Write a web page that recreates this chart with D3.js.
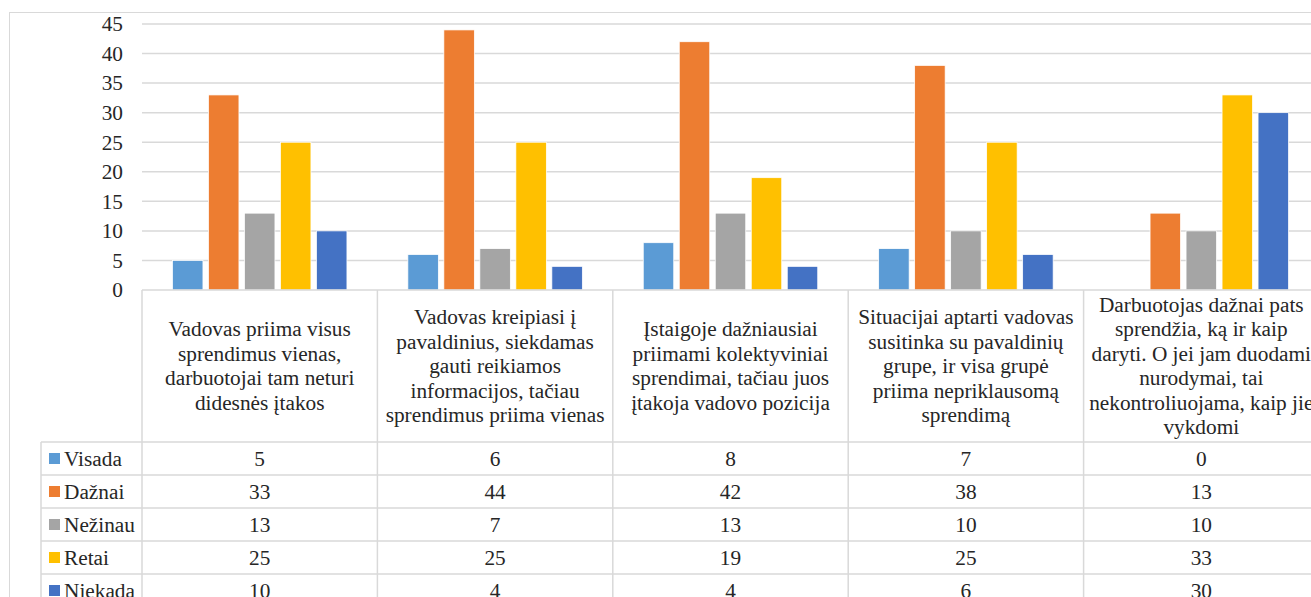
<!DOCTYPE html>
<html>
<head>
<meta charset="utf-8">
<script src="https://cdn.jsdelivr.net/npm/d3@7"></script>
<style>
  html, body { margin: 0; padding: 0; background: #fff; }
  svg { display: block; }
</style>
</head>
<body>
<svg id="chart" width="1311" height="597"></svg>
<script>
// Category labels (wrapped lines) for each statement
const categories = [
  ["Vadovas priima visus", "sprendimus vienas,", "darbuotojai tam neturi", "didesnės įtakos"],
  ["Vadovas kreipiasi į", "pavaldinius, siekdamas", "gauti reikiamos", "informacijos, tačiau", "sprendimus priima vienas"],
  ["Įstaigoje dažniausiai", "priimami kolektyviniai", "sprendimai, tačiau juos", "įtakoja vadovo pozicija"],
  ["Situacijai aptarti vadovas", "susitinka su pavaldinių", "grupe, ir visa grupė", "priima nepriklausomą", "sprendimą"],
  ["Darbuotojas dažnai pats", "sprendžia, ką ir kaip", "daryti. O jei jam duodami", "nurodymai, tai", "nekontroliuojama, kaip jie", "vykdomi"]
];

const seriesNames = ["Visada", "Dažnai", "Nežinau", "Retai", "Niekada"];
const seriesColors = ["#5B9BD5", "#ED7D31", "#A5A5A5", "#FFC000", "#4472C4"];

const visada  = [5, 6, 8, 7, 0];
const daznai  = [33, 44, 42, 38, 13];
const nezinau = [13, 7, 13, 10, 10];
const retai   = [25, 25, 19, 25, 33];
const niekada = [10, 4, 4, 6, 30];

const yTicks = [0, 5, 10, 15, 20, 25, 30, 35, 40, 45];

const seriesValues = [visada, daznai, nezinau, retai, niekada];

const FONT = '"Liberation Serif", "Times New Roman", "DejaVu Serif", serif';
const FS = 21.3;
const INK = "#262626";

const svg = d3.select("#chart");
const grid = "#d9d9d9";

// Layout
const plotLeft = 142, plotRight = 1319, plotTop = 24, plotBottom = 290;
const headerBottom = 442, rowH = 33, legendLeft = 41;

const catIdx = categories.map((_, i) => i);
const x0 = d3.scaleBand().domain(catIdx).range([plotLeft, plotRight]).padding(0);
const x1 = d3.scaleBand().domain(seriesNames).range([0, x0.bandwidth()])
  .paddingInner(0.153).paddingOuter(0.846);
const y = d3.scaleLinear().domain([0, 45]).range([plotBottom, plotTop]);

function txt(sel) {
  return sel.style("font-family", FONT).style("font-size", FS + "px").style("fill", INK);
}

// Outer chart frame
svg.append("rect")
  .attr("x", 9.5).attr("y", 12.5)
  .attr("width", 1320).attr("height", 620)
  .attr("fill", "none").attr("stroke", grid).attr("stroke-width", 1);

// Gridlines
svg.append("g").selectAll("line")
  .data(yTicks.filter(t => t > 0))
  .join("line")
  .attr("x1", plotLeft).attr("x2", plotRight)
  .attr("y1", d => y(d)).attr("y2", d => y(d))
  .attr("stroke", grid).attr("stroke-width", 1.5);

// Y axis labels
const yAxis = d3.axisLeft(y).tickValues(yTicks).tickSize(0).tickPadding(19);
const yg = svg.append("g").attr("transform", `translate(${plotLeft},0)`).call(yAxis);
yg.select(".domain").remove();
txt(yg.selectAll("text"));

// Bars
const groups = svg.append("g").selectAll("g")
  .data(catIdx)
  .join("g")
  .attr("transform", i => `translate(${x0(i)},0)`);

groups.selectAll("rect")
  .data(i => seriesNames.map((s, k) => ({ s, k, v: seriesValues[k][i] })))
  .join("rect")
  .filter(d => d.v > 0)
  .attr("x", d => x1(d.s))
  .attr("width", x1.bandwidth())
  .attr("y", d => y(d.v))
  .attr("height", d => y(0) - y(d.v))
  .attr("fill", d => seriesColors[d.k])
  .attr("stroke", "#ffffff").attr("stroke-width", 0.75);

// Category axis line
svg.append("line")
  .attr("x1", plotLeft).attr("x2", plotRight)
  .attr("y1", plotBottom).attr("y2", plotBottom)
  .attr("stroke", grid).attr("stroke-width", 1.5);

// Data table
const tableBottom = headerBottom + rowH * seriesNames.length;
const tbl = svg.append("g");

// vertical column borders
const colEdges = catIdx.map(i => x0(i)).concat([plotRight]);
tbl.selectAll("line.v")
  .data(colEdges)
  .join("line")
  .attr("class", "v")
  .attr("x1", d => d).attr("x2", d => d)
  .attr("y1", plotBottom).attr("y2", tableBottom)
  .attr("stroke", grid).attr("stroke-width", 1.5);

// legend column left border
tbl.append("line")
  .attr("x1", legendLeft).attr("x2", legendLeft)
  .attr("y1", headerBottom).attr("y2", tableBottom)
  .attr("stroke", grid).attr("stroke-width", 1.5);

// horizontal row borders
const rowEdges = d3.range(seriesNames.length + 1).map(r => headerBottom + r * rowH);
tbl.selectAll("line.h")
  .data(rowEdges)
  .join("line")
  .attr("class", "h")
  .attr("x1", legendLeft).attr("x2", plotRight)
  .attr("y1", d => d).attr("y2", d => d)
  .attr("stroke", grid).attr("stroke-width", 1.5);

// header text
const lineH = 24.5;
const headerMid = (plotBottom + headerBottom) / 2;
catIdx.forEach(i => {
  const lines = categories[i];
  const cx = x0(i) + x0.bandwidth() / 2;
  const firstBase = headerMid + 7 - (lines.length - 1) * lineH / 2;
  const t = txt(tbl.append("text").attr("text-anchor", "middle"));
  lines.forEach((ln, j) => {
    t.append("tspan").attr("x", cx).attr("y", firstBase + j * lineH).text(ln);
  });
});

// rows: legend key, series name, values
seriesNames.forEach((s, k) => {
  const rowMid = headerBottom + k * rowH + rowH / 2;
  tbl.append("rect")
    .attr("x", 49).attr("y", rowMid - 5.5)
    .attr("width", 11).attr("height", 11)
    .attr("fill", seriesColors[k]);
  txt(tbl.append("text")
    .attr("x", 64).attr("y", rowMid + 7))
    .text(s);
  catIdx.forEach(i => {
    txt(tbl.append("text")
      .attr("x", x0(i) + x0.bandwidth() / 2)
      .attr("y", rowMid + 7)
      .attr("text-anchor", "middle"))
      .text(seriesValues[k][i]);
  });
});
</script>
</body>
</html>
